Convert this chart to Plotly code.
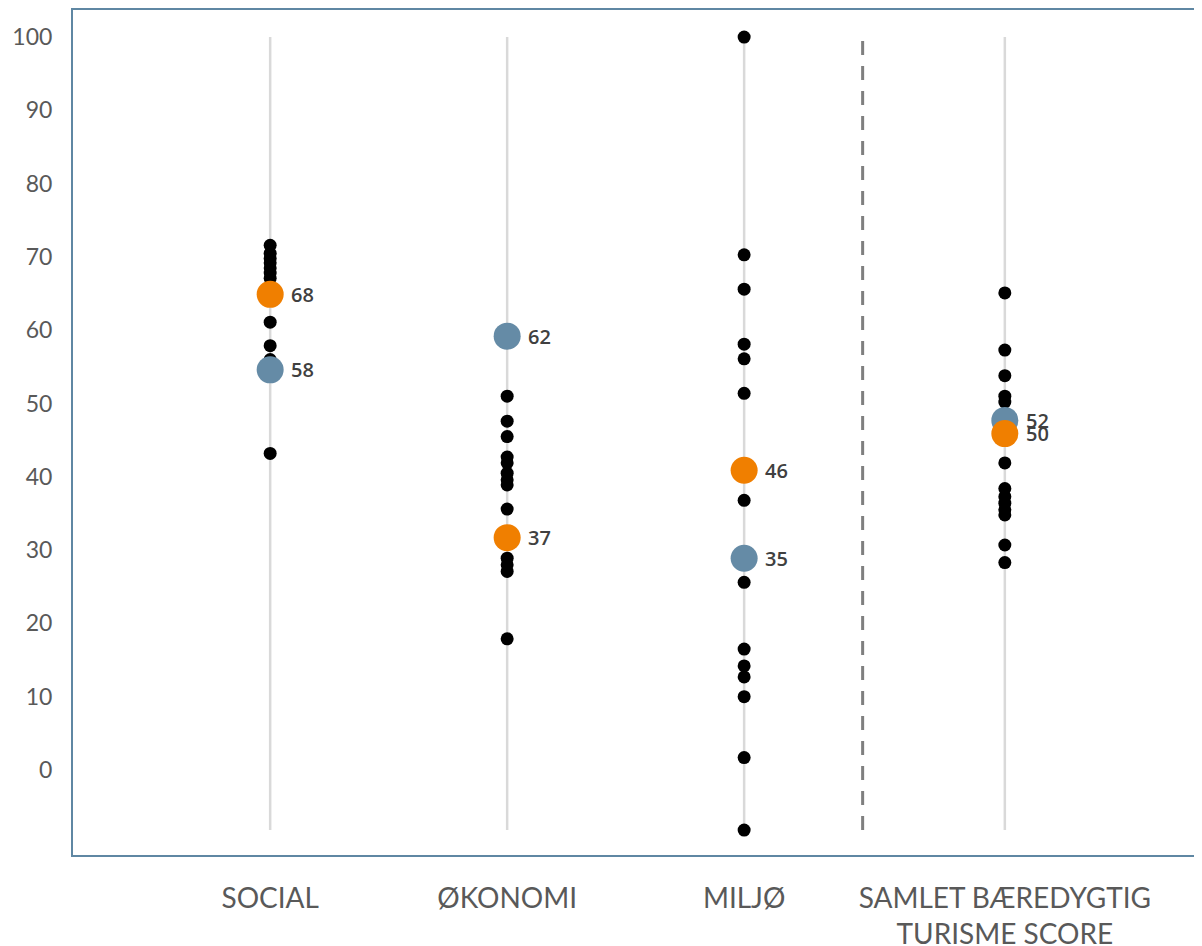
import plotly.graph_objects as go

# ---- data ----
categories = ["SOCIAL", "ØKONOMI", "MILJØ", "SAMLET BÆREDYGTIG<br>TURISME SCORE"]
cat_pos = [1, 2, 3, 4.1]
divider_pos = 3.5

social = [71.6, 70.5, 69.8, 69.2, 68.5, 67.8, 67.1, 61.1, 57.9, 56.0, 43.2]
okonomi = [51.0, 47.6, 45.5, 42.7, 41.9, 40.5, 39.6, 38.9, 35.6, 28.9, 28.0, 27.1, 17.9]
miljo = [100.0, 70.3, 65.6, 58.1, 56.1, 51.4, 36.8, 25.6, 16.5, 14.2, 12.7, 10.0, 1.7, -8.2]
samlet = [65.1, 57.3, 53.8, 51.0, 50.2, 41.9, 38.4, 37.3, 36.4, 35.5, 34.8, 30.7, 28.3]

blue_vals = [54.6, 59.2, 28.9, 47.7]
blue_labels = ["58", "62", "35", "52"]
orange_vals = [64.9, 31.7, 40.9, 45.9]
orange_labels = ["68", "37", "46", "50"]

y_ticks = [0, 10, 20, 30, 40, 50, 60, 70, 80, 90, 100]

# ---- styles ----
GREY_TXT = "#595959"
BLUE = "#658BA6"
ORANGE = "#F07F00"
FRAME = "#5F87A3"

groups = [social, okonomi, miljo, samlet]
all_vals = [v for g in groups for v in g] + blue_vals + orange_vals
lo, hi = min(all_vals), max(all_vals)

fig = go.Figure()

# light grey vertical guide lines
for p in cat_pos:
    fig.add_trace(go.Scatter(x=[p, p], y=[lo, hi], mode="lines",
                             line=dict(color="#D9D9D9", width=2.5),
                             hoverinfo="skip", showlegend=False))

# dashed divider
fig.add_trace(go.Scatter(x=[divider_pos, divider_pos], y=[lo, hi], mode="lines",
                         line=dict(color="#7F7F7F", width=3, dash="14px,11px"),
                         hoverinfo="skip", showlegend=False))

# black dots
for p, g in zip(cat_pos, groups):
    fig.add_trace(go.Scatter(x=[p] * len(g), y=g, mode="markers",
                             marker=dict(color="black", size=13),
                             showlegend=False))

# blue and orange highlight points
fig.add_trace(go.Scatter(x=cat_pos, y=blue_vals, mode="markers",
                         marker=dict(color=BLUE, size=27), showlegend=False))
fig.add_trace(go.Scatter(x=cat_pos, y=orange_vals, mode="markers",
                         marker=dict(color=ORANGE, size=27), showlegend=False))

for vals, labels in [(blue_vals, blue_labels), (orange_vals, orange_labels)]:
    for p, v, t in zip(cat_pos, vals, labels):
        fig.add_annotation(x=p, y=v, text=t, showarrow=False, xanchor="left",
                           yanchor="middle", xshift=19,
                           font=dict(family="Open Sans", size=20, color="#404040", weight=600))

fig.update_layout(
    width=1194, height=938,
    margin=dict(l=65, r=0, t=2, b=91),
    plot_bgcolor="white", paper_bgcolor="white",
    font=dict(family="Lato", color=GREY_TXT),
    xaxis=dict(range=[0.168, 4.932], tickvals=cat_pos, ticktext=categories,
               showgrid=False, zeroline=False, showline=True, mirror=True,
               linecolor=FRAME, linewidth=2, ticks="outside", ticklen=17,
               automargin=False,
               tickcolor="rgba(0,0,0,0)", tickfont=dict(size=28, color=GREY_TXT)),
    yaxis=dict(range=[-11.6, 103.7], tickvals=y_ticks,
               showgrid=False, zeroline=False, showline=True, mirror=False,
               linecolor=FRAME, linewidth=2, ticks="outside", ticklen=14,
               automargin=False,
               tickcolor="rgba(0,0,0,0)", tickfont=dict(size=23, color=GREY_TXT)),
)

fig.write_html("out.html")
